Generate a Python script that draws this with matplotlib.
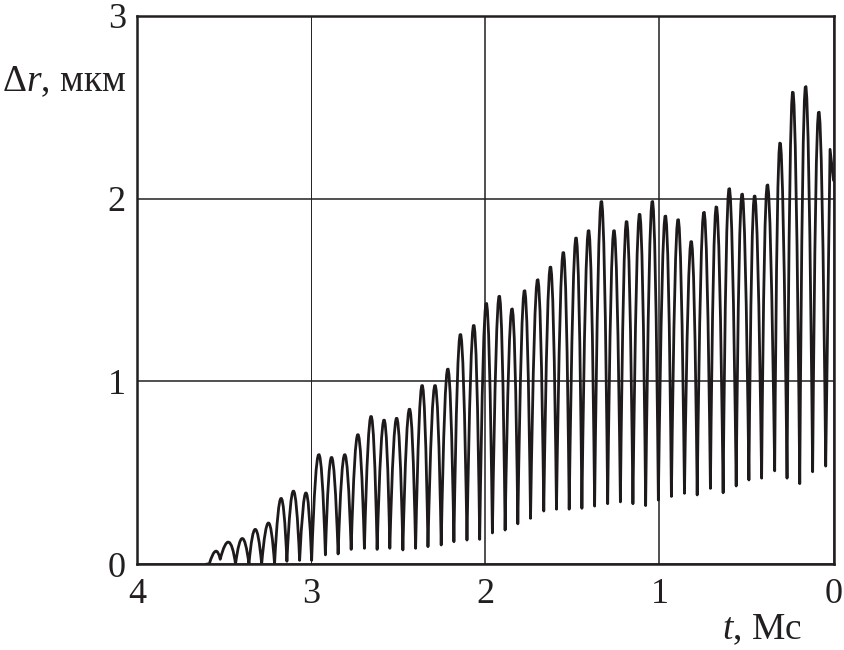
import numpy as np
import matplotlib.pyplot as plt
from matplotlib.path import Path
from matplotlib.patches import PathPatch

plt.rcParams['font.family'] = ['Liberation Serif', 'DejaVu Serif']
plt.rcParams['mathtext.fontset'] = 'custom'
plt.rcParams['mathtext.rm'] = 'Liberation Serif'
plt.rcParams['mathtext.it'] = 'Liberation Serif:italic'

# начало сигнала (нулевой участок)
start_t = [3.60, 3.585]
start_v = [0.0, 0.0]

# вершины колебаний, t в Мс, значения в мкм
peak_t = [3.545, 3.468, 3.395, 3.321, 3.243, 3.171, 3.101, 3.028, 2.955, 2.884,
          2.807, 2.731, 2.654, 2.578, 2.507, 2.434, 2.361, 2.286, 2.214, 2.143,
          2.064, 1.993, 1.917, 1.844, 1.773, 1.697, 1.624, 1.549, 1.476, 1.405,
          1.332, 1.261, 1.189, 1.112, 1.039, 0.963, 0.892, 0.815, 0.744, 0.675,
          0.602, 0.528, 0.457, 0.384, 0.311, 0.237, 0.164, 0.087, 0.020]
peak_v = [0.07, 0.12, 0.14, 0.19, 0.225, 0.36, 0.40, 0.39, 0.60, 0.585,
          0.60, 0.71, 0.81, 0.79, 0.80, 0.85, 0.98, 0.98, 1.07, 1.26,
          1.31, 1.43, 1.47, 1.40, 1.50, 1.56, 1.63, 1.71, 1.79, 1.83,
          1.99, 1.83, 1.88, 1.92, 1.99, 1.91, 1.89, 1.77, 1.93, 1.96,
          2.06, 2.03, 2.02, 2.08, 2.31, 2.59, 2.62, 2.48, 2.27]

# впадины между вершинами
trough_t = [3.522, 3.434, 3.357, 3.284, 3.210, 3.139, 3.066, 2.997, 2.918, 2.845,
            2.770, 2.694, 2.621, 2.548, 2.473, 2.400, 2.329, 2.253, 2.180, 2.105,
            2.032, 1.959, 1.886, 1.813, 1.740, 1.664, 1.591, 1.518, 1.445, 1.372,
            1.297, 1.224, 1.152, 1.079, 1.006, 0.931, 0.856, 0.783, 0.707, 0.634,
            0.559, 0.486, 0.413, 0.338, 0.267, 0.194, 0.120, 0.045]
trough_v = [0.026, 0.0, 0.0, 0.0, 0.0, 0.015, 0.02, 0.02, 0.05, 0.055,
            0.08, 0.086, 0.08, 0.086, 0.077, 0.086, 0.095, 0.104, 0.122, 0.131,
            0.135, 0.17, 0.186, 0.22, 0.25, 0.29, 0.30, 0.30, 0.305, 0.317,
            0.33, 0.34, 0.33, 0.32, 0.35, 0.37, 0.387, 0.378, 0.414, 0.39,
            0.427, 0.46, 0.47, 0.51, 0.47, 0.44, 0.505, 0.536]

# конец записи на t = 0
end_t = 0.0
end_v = 2.1

# арки между соседними впадинами (квадратичные кривые Безье через вершину)
lo_t = [start_t[-1]] + trough_t
lo_v = [start_v[-1]] + trough_v
verts = [(start_t[0], start_v[0]), (start_t[1], start_v[1])]
codes = [Path.MOVETO, Path.LINETO]
for i in range(len(trough_t)):
    ctrl_v = 2 * peak_v[i] - (lo_v[i] + lo_v[i + 1]) / 2
    verts += [(peak_t[i], ctrl_v), (lo_t[i + 1], lo_v[i + 1])]
    codes += [Path.CURVE3, Path.CURVE3]
verts += [(peak_t[-1], peak_v[-1]), (end_t, end_v)]
codes += [Path.LINETO, Path.LINETO]

fig = plt.figure(figsize=(8.44, 6.5), dpi=100)
ax = fig.add_axes([0.1623, 0.1323, 0.8253, 0.8431])

ax.add_patch(PathPatch(Path(verts, codes), fill=False, edgecolor='#1e1a1b',
                       lw=2.0, joinstyle='round', capstyle='round'))

ax.set_xlim(4, 0)
ax.set_ylim(0, 3)
ax.set_xticks([4, 3, 2, 1, 0])
ax.set_yticks([0, 1, 2, 3])
ax.set_xticklabels(['4', '3', '2', '1', '0'])
ax.set_yticklabels(['0', '1', '2', '3'])
ax.tick_params(length=0, labelsize=26, colors='#231f20')
ax.tick_params(axis='x', pad=10)
ax.tick_params(axis='y', pad=8)
ax.grid(True, color='#231f20', lw=1.1)
ax.set_axisbelow(True)
# линия сетки t = 3 в оригинале тоньше
ax.get_xgridlines()[1].set_linewidth(0.7)
for s in ax.spines.values():
    s.set_linewidth(1.8)
    s.set_color('#231f20')

ax.text(-0.194, 0.88, r'$\Delta r$, мкм', transform=ax.transAxes, fontsize=27,
        ha='left', va='center', color='#231f20')
ax.text(0.955, -0.12, r'$t$, Мс', transform=ax.transAxes, fontsize=27,
        ha='right', va='center', color='#231f20')

fig.savefig('out.png', dpi=100)
